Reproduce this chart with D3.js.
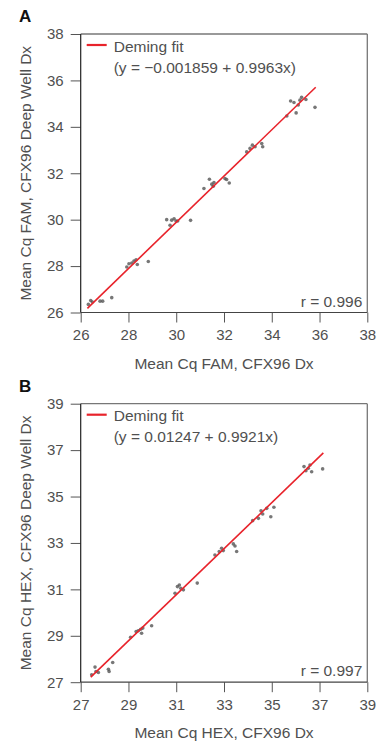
<!DOCTYPE html>
<html>
<head>
<meta charset="utf-8">
<script src="https://cdn.jsdelivr.net/npm/d3@7"></script>
<style>
  body { margin: 0; background: #fff; }
  svg text { font-family: "Liberation Sans", Arial, sans-serif; }
  .tick text { fill: #505050; font-size: 15px; }
  .tick line { stroke: #555; }
</style>
</head>
<body>
<div id="chart"></div>
<script>
// panel A: FAM
const famX = [26.32, 26.42, 26.49, 26.81, 26.92, 27.3,
  27.93, 28.02, 28.14, 28.23, 28.32, 28.37, 28.83,
  29.6, 29.74, 29.81, 29.91, 29.99, 30.06, 30.6,
  31.16, 31.39, 31.49, 31.55, 31.58, 32.04, 32.11, 32.22,
  32.95, 33.09, 33.19, 33.3, 33.58, 33.62,
  34.63, 34.79, 34.93, 35.02, 35.11, 35.18, 35.25, 35.43, 35.81];
const famY = [26.35, 26.52, 26.45, 26.49, 26.49, 26.64,
  27.96, 28.1, 28.13, 28.22, 28.27, 28.07, 28.2,
  30.0, 29.76, 29.98, 30.04, 29.94, 29.94, 29.97,
  31.34, 31.74, 31.53, 31.44, 31.6, 31.77, 31.73, 31.58,
  32.92, 33.07, 33.21, 33.14, 33.28, 33.14,
  34.47, 35.11, 35.05, 34.6, 34.94, 35.15, 35.27, 35.18, 34.84];
const famTicks = [26, 28, 30, 32, 34, 36, 38];
const famFit = [-0.001859, 0.9963];
const famFitRange = [26.28, 35.84];

// panel B: HEX
const hexX = [27.46, 27.6, 27.64, 27.74, 28.16, 28.19, 28.34,
  29.09, 29.32, 29.41, 29.51, 29.6, 29.55, 29.97,
  30.95, 31.05, 31.13, 31.19, 31.3, 31.88,
  32.62, 32.8, 32.9, 32.97, 33.39, 33.46, 33.53,
  34.2, 34.44, 34.55, 34.62, 34.79, 34.96, 35.09,
  36.35, 36.43, 36.53, 36.6, 36.67, 37.13];
const hexY = [27.32, 27.65, 27.46, 27.42, 27.56, 27.46, 27.85,
  28.94, 29.18, 29.22, 29.28, 29.33, 29.11, 29.43,
  30.83, 31.12, 31.19, 31.05, 30.98, 31.27,
  32.48, 32.63, 32.77, 32.67, 32.96, 32.87, 32.63,
  33.96, 34.06, 34.39, 34.25, 34.49, 34.13, 34.54,
  36.29, 36.11, 36.22, 36.36, 36.07, 36.19];
const hexTicks = [27, 29, 31, 33, 35, 37, 39];
const hexFit = [0.01247, 0.9921];
const hexFitRange = [27.42, 37.16];

const svg = d3.select('#chart').append('svg')
  .attr('width', 380)
  .attr('height', 743);

function drawPanel(cfg) {
  const left = 80.7, right = 367.3;
  const top = cfg.top, bottom = cfg.top + 278.5;
  const g = svg.append('g');

  const x = d3.scaleLinear().domain(d3.extent(cfg.ticks)).range([left, right]);
  const y = d3.scaleLinear().domain(d3.extent(cfg.ticks)).range([bottom, top]);

  // axes (ticks outside the box)
  g.append('g')
    .attr('transform', `translate(0,${bottom})`)
    .call(d3.axisBottom(x).tickValues(cfg.ticks).tickSize(10).tickSizeOuter(0).tickPadding(7))
    .call(a => a.select('.domain').remove());
  g.append('g')
    .attr('transform', `translate(${left},0)`)
    .call(d3.axisLeft(y).tickValues(cfg.ticks).tickSize(10).tickSizeOuter(0).tickPadding(7))
    .call(a => a.select('.domain').remove());

  // box
  g.append('line').attr('x1', left).attr('x2', right).attr('y1', top).attr('y2', top)
    .attr('stroke', '#777').attr('stroke-width', 1.3);
  g.append('line').attr('x1', right).attr('x2', right).attr('y1', top).attr('y2', bottom)
    .attr('stroke', '#777').attr('stroke-width', 1.3);
  g.append('line').attr('x1', left).attr('x2', right).attr('y1', bottom).attr('y2', bottom)
    .attr('stroke', '#444').attr('stroke-width', 1.2);
  g.append('line').attr('x1', left).attr('x2', left).attr('y1', top).attr('y2', bottom)
    .attr('stroke', '#222').attr('stroke-width', 1.2);

  // points
  g.selectAll('.pt')
    .data(cfg.xs.map((v, i) => [v, cfg.ys[i]]))
    .join('circle')
    .attr('class', 'pt')
    .attr('cx', d => x(d[0]))
    .attr('cy', d => y(d[1]))
    .attr('r', 1.8)
    .attr('fill', '#555')
    .attr('opacity', 0.8);

  // deming fit line
  const fy = v => cfg.fit[0] + cfg.fit[1] * v;
  g.append('line')
    .attr('x1', x(cfg.fitRange[0])).attr('y1', y(fy(cfg.fitRange[0])))
    .attr('x2', x(cfg.fitRange[1])).attr('y2', y(fy(cfg.fitRange[1])))
    .attr('stroke', '#e8232b').attr('stroke-width', 1.6);

  // legend
  g.append('line').attr('x1', left + 6).attr('x2', left + 26)
    .attr('y1', top + 11).attr('y2', top + 11)
    .attr('stroke', '#e8232b').attr('stroke-width', 2.2);
  g.append('text').attr('x', left + 33).attr('y', top + 17.5)
    .attr('fill', '#505050').style('font-size', '15.5px').text('Deming fit');
  g.append('text').attr('x', left + 33).attr('y', top + 38.5)
    .attr('fill', '#505050').style('font-size', '15.5px').text(cfg.eq);

  g.append('text').attr('x', right - 5).attr('y', bottom - 6)
    .attr('text-anchor', 'end').attr('fill', '#505050').style('font-size', '15.5px')
    .text(cfg.r);

  // axis titles
  g.append('text').attr('x', (left + right) / 2).attr('y', bottom + 56)
    .attr('text-anchor', 'middle').attr('fill', '#505050').style('font-size', '15.5px')
    .text(cfg.xTitle);
  g.append('text')
    .attr('transform', `translate(31,${(top + bottom) / 2}) rotate(-90)`)
    .attr('text-anchor', 'middle').attr('fill', '#505050').style('font-size', '15.5px')
    .text(cfg.yTitle);

  // panel letter
  g.append('text').attr('x', 19).attr('y', top - 12)
    .attr('fill', '#111').style('font-size', '17px').style('font-weight', 'bold')
    .text(cfg.letter);
}

drawPanel({
  top: 34, ticks: famTicks, xs: famX, ys: famY, fit: famFit, fitRange: famFitRange,
  eq: '(y = \u22120.001859 + 0.9963x)', r: 'r = 0.996', letter: 'A',
  xTitle: 'Mean Cq FAM, CFX96 Dx', yTitle: 'Mean Cq FAM, CFX96 Deep Well Dx'
});
drawPanel({
  top: 403.7, ticks: hexTicks, xs: hexX, ys: hexY, fit: hexFit, fitRange: hexFitRange,
  eq: '(y = 0.01247 + 0.9921x)', r: 'r = 0.997', letter: 'B',
  xTitle: 'Mean Cq HEX, CFX96 Dx', yTitle: 'Mean Cq HEX, CFX96 Deep Well Dx'
});
</script>
</body>
</html>
